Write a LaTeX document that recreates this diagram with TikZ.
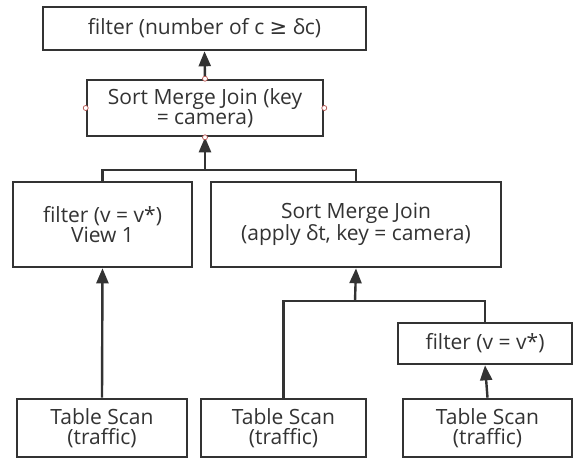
\documentclass[tikz,border=0pt]{standalone}
\usepackage{fontspec}
\setmainfont{Open Sans}
\newfontfamily\mathsym{DejaVu Sans}
\usetikzlibrary{arrows.meta,positioning}
\definecolor{planInk}{HTML}{333333}
\definecolor{planHandle}{HTML}{B5524E}

\tikzset{
  opbox/.style={draw=planInk,line width=2.6pt,fill=white,text=planInk,
                inner sep=0pt,align=center,
                font=\fontsize{21}{20.5}\selectfont},
  link/.style={draw=planInk,line width=2.4pt},
  feed/.style={link,-{Triangle[length=15pt,width=12pt]}},
  handle/.style={circle,draw=planHandle,fill=white,line width=0.7pt,
                 inner sep=0pt,minimum size=5pt}
}

\begin{document}
\begin{tikzpicture}[x=1pt,y=-1pt]
  \useasboundingbox (0,0) rectangle (577,459);

  % operators, top to bottom
  \node[opbox,minimum width=323pt,minimum height=43pt] (agg) at (204.5,28.5)
    {filter (number of c {\mathsym ≥} δc)};
  \node[opbox,minimum width=236pt,minimum height=56pt] (join1) at (205,108)
    {Sort Merge Join (key\\= camera)};
  \node[opbox,minimum width=179pt,minimum height=85pt] (view) at (102.5,224.5)
    {filter (v = v*)\\View 1};
  \node[opbox,minimum width=290pt,minimum height=85pt] (join2) at (356,224.5)
    {Sort Merge Join\\(apply δt, key = camera)};
  \node[opbox,minimum width=174pt,minimum height=41pt] (filt) at (485,343.5)
    {filter (v = v*)};
  \node[opbox,minimum width=170pt,minimum height=58pt] (scanA) at (102,428)
    {Table Scan\\(traffic)};
  \node[opbox,minimum width=165pt,minimum height=58pt] (scanB) at (283.5,428)
    {Table Scan\\(traffic)};
  \node[opbox,minimum width=169pt,minimum height=58pt] (scanC) at (487.5,428)
    {Table Scan\\(traffic)};

  % branch points of the two joins
  \coordinate (fork1) at (205,170);
  \coordinate (fork2) at (355,301);

  \draw[feed] (join1.north) -- (agg.south);
  \draw[link] (view.north) |- (fork1) -| (join2.north);
  \draw[feed] (fork1) -- (join1.south);
  \draw[feed] (scanA.north) -- (view.south);
  \draw[link] (scanB.north) |- (fork2) -| (filt.north);
  \draw[feed] (fork2) -- (join2.south);
  \draw[feed] (scanC.north) -- (filt.south);

  % selection handles
  \foreach \side in {north,south,east,west}
    \node[handle] at (join1.\side) {};
\end{tikzpicture}
\end{document}
